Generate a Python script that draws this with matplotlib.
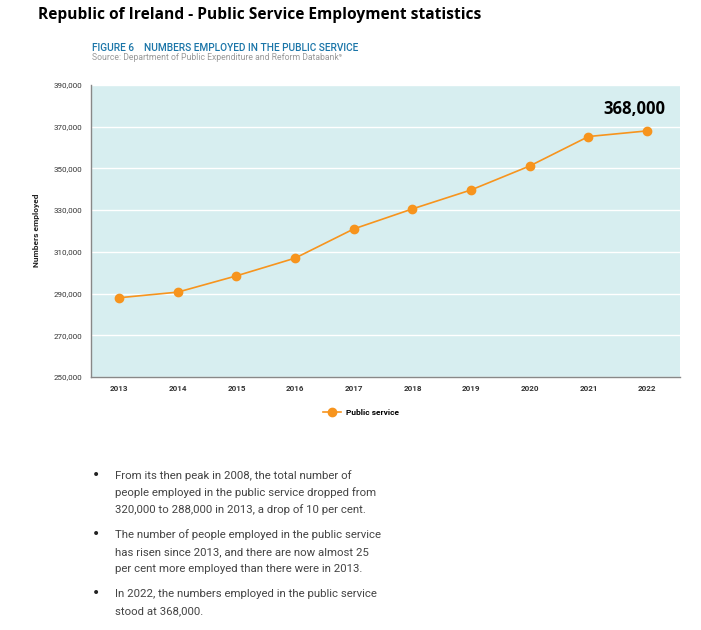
import matplotlib.pyplot as plt
from matplotlib.ticker import FuncFormatter

# data
years = [2013, 2014, 2015, 2016, 2017, 2018, 2019, 2020, 2021, 2022]
employed = [288000, 290700, 298500, 307000, 321000, 330600, 339700, 351200, 365300, 368000]
y_ticks = [250000, 270000, 290000, 310000, 330000, 350000, 370000, 390000]

bullets = [
    ["From its then peak in 2008, the total number of",
     "people employed in the public service dropped from",
     "320,000 to 288,000 in 2013, a drop of 10 per cent."],
    ["The number of people employed in the public service",
     "has risen since 2013, and there are now almost 25",
     "per cent more employed than there were in 2013."],
    ["In 2022, the numbers employed in the public service",
     "stood at 368,000."],
]

W, H = 701, 630
orange = '#f7941d'

fig = plt.figure(figsize=(W / 100, H / 100), dpi=100)
plt.rcParams['font.family'] = ['Roboto', 'DejaVu Sans']


def fx(px):
    return px / W


def fy(py):
    return 1 - py / H


ax = fig.add_axes([fx(91), fy(377), fx(680) - fx(91), fy(85) - fy(377)])
ax.set_facecolor('#d7eef0')
ax.plot(years, employed, color=orange, lw=1.2, marker='o', markersize=6,
        label='Public service', zorder=3)
ax.set_xlim(2012.52, 2022.56)
ax.set_ylim(250000, 390000)
ax.set_yticks(y_ticks)
ax.set_xticks(years)
ax.yaxis.set_major_formatter(FuncFormatter(lambda v, p: f"{int(v):,}"))
ax.grid(axis='y', color='white', lw=1.0)
ax.set_axisbelow(True)
ax.tick_params(length=0, labelsize=5.8, colors='#333333', pad=6)
for lbl in ax.get_xticklabels():
    lbl.set_fontweight('bold')
for s in ['top', 'right']:
    ax.spines[s].set_visible(False)
for s in ['left', 'bottom']:
    ax.spines[s].set_color('#888888')
    ax.spines[s].set_linewidth(1.0)

ax.annotate(f"{employed[-1]:,}", (years[-1], employed[-1]), xytext=(-9, 9),
            textcoords='offset points', ha='center', va='bottom',
            fontsize=12, fontweight='bold', family=['Open Sans', 'DejaVu Sans'])

leg = ax.legend(loc='upper center', bbox_to_anchor=(0.458, -0.085), frameon=False,
                prop={'size': 6, 'weight': 'bold'}, handlelength=2.2,
                handletextpad=0.5)

fig.text(fx(37), fy(230), 'Numbers employed', rotation=90, ha='center',
         va='center', fontsize=6, fontweight='bold', color='#222222')

fig.text(fx(38), fy(15), 'Republic of Ireland - Public Service Employment statistics',
         fontsize=11.2, fontweight='bold', va='center',
         family=['Open Sans', 'DejaVu Sans'])
fig.text(fx(92), fy(48), 'FIGURE 6    NUMBERS EMPLOYED IN THE PUBLIC SERVICE',
         fontsize=7.3, color='#1a75a8', va='center', fontweight='medium')
fig.text(fx(92), fy(58), 'Source: Department of Public Expenditure and Reform Databank\u2079',
         fontsize=6.2, color='#999999', va='center')

line_y = 479
for para in bullets:
    fig.text(fx(92), fy(line_y), '\u2022', fontsize=10, va='baseline', color='#222222',
             family=['DejaVu Sans'])
    for ln in para:
        fig.text(fx(115), fy(line_y), ln, fontsize=8.2, va='baseline', color='#444444')
        line_y += 17
    line_y += 8

fig.savefig('out.png', dpi=100)
